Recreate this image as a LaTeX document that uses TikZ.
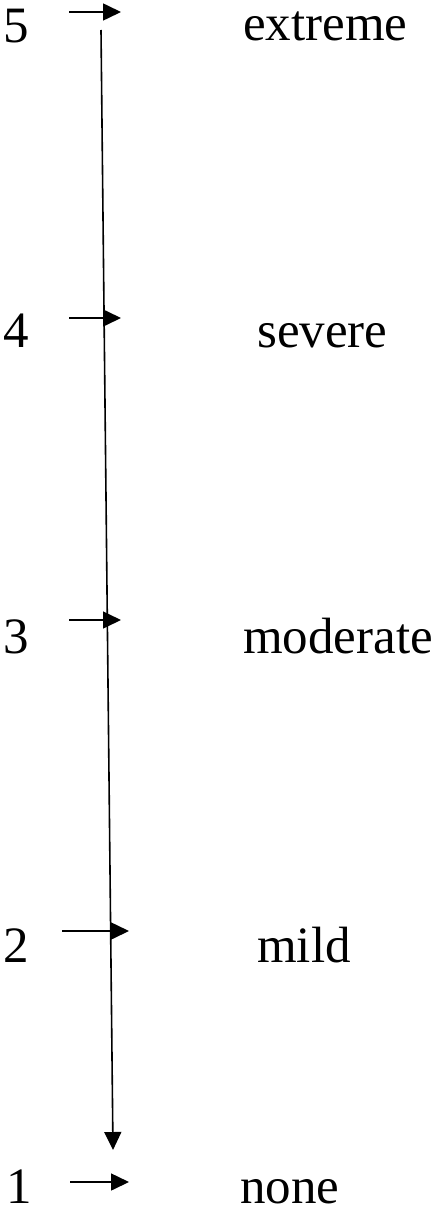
\documentclass[tikz,border=0pt]{standalone}
\usepackage{fontspec}
\setmainfont{Liberation Serif}
\usetikzlibrary{arrows.meta}
\begin{document}
\begin{tikzpicture}[x=1pt,y=-1pt,
  lab/.style={anchor=base west,inner sep=0pt,font=\fontsize{51}{60}\selectfont},
  tick/.style={line width=1.6pt,-{Triangle[length=18pt,width=17pt]}},
  axis/.style={line width=1.6pt,-{Triangle[length=18pt,width=17pt]}}]
\useasboundingbox (0,0) rectangle (444,1212);
% levels
\node[lab] (n5) at (3,43) {5};
\node[lab] (w5) at (243,41) {extreme};
\node[lab] (n4) at (3,347) {4};
\node[lab] (w4) at (257,347) {severe};
\node[lab] (n3) at (3,653) {3};
\node[lab] (w3) at (243,653) {moderate};
\node[lab] (n2) at (3,962) {2};
\node[lab] (w2) at (257,962) {mild};
\node[lab] (n1) at (6,1203) {1};
\node[lab] (w1) at (240,1203) {none};
% tick arrows
\coordinate (a5) at (69,12);   \coordinate (b5) at (121,12);
\coordinate (a4) at (69,318);  \coordinate (b4) at (121,318);
\coordinate (a3) at (69,620);  \coordinate (b3) at (121,620);
\coordinate (a2) at (62,931);  \coordinate (b2) at (129,931);
\coordinate (a1) at (70,1182); \coordinate (b1) at (129,1182);
\draw[tick] (a5) -- (b5);
\draw[tick] (a4) -- (b4);
\draw[tick] (a3) -- (b3);
\draw[tick] (a2) -- (b2);
\draw[tick] (a1) -- (b1);
% axis
\coordinate (top) at (101,30);
\coordinate (bot) at (113,1150);
\draw[axis] (top) -- (bot);
\end{tikzpicture}
\end{document}
